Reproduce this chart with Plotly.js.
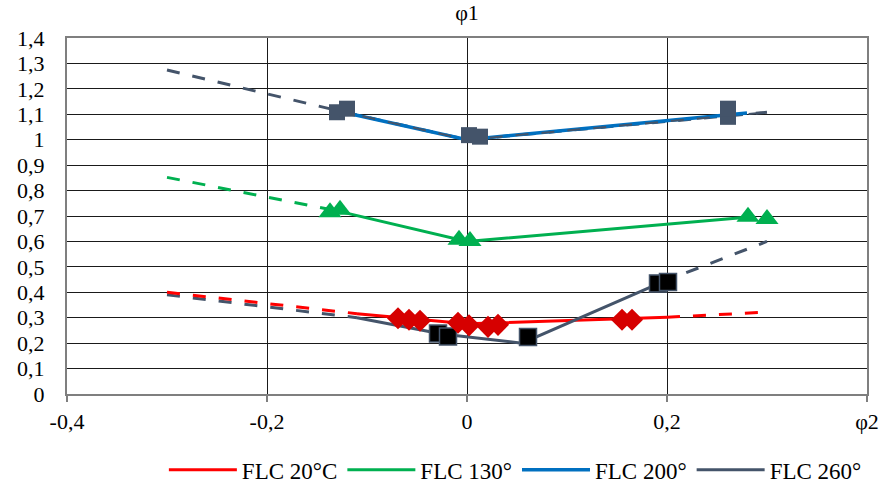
<!DOCTYPE html>
<html>
<head>
<meta charset="utf-8">
<script src="https://cdn.plot.ly/plotly-3.0.1.min.js"></script>
<style>html,body{margin:0;padding:0;background:#fff}#chart{width:884px;height:490px}</style>
</head>
<body>
<div id="chart"></div>
<script>
// ---- data ----
const seriesNames = ["FLC 20°C", "FLC 130°", "FLC 200°", "FLC 260°"];

// FLC 20°C
const flc20LineX = [-0.11, 0.0, 0.2];
const flc20LineY = [0.316, 0.276, 0.302];
const flc20DashLeftX = [-0.3, -0.11];
const flc20DashLeftY = [0.40, 0.316];
const flc20DashRightX = [0.2, 0.3];
const flc20DashRightY = [0.302, 0.322];
const flc20PtsX = [-0.069, -0.058, -0.047, -0.009, 0.002, 0.021, 0.031, 0.155, 0.165];
const flc20PtsY = [0.298, 0.292, 0.288, 0.28, 0.27, 0.264, 0.272, 0.292, 0.292];

// FLC 130°
const flc130LineX = [-0.13, 0.0, 0.28];
const flc130LineY = [0.72, 0.60, 0.695];
const flc130DashX = [-0.3, -0.13];
const flc130DashY = [0.852, 0.72];
const flc130PtsX = [-0.137, -0.127, -0.008, 0.003, 0.281, 0.3];
const flc130PtsY = [0.715, 0.725, 0.607, 0.602, 0.697, 0.688];

// FLC 200°
const flc200LineX = [-0.135, 0.0, 0.28];
const flc200LineY = [1.118, 1.0, 1.105];
const flc200PtsX = [-0.13, -0.12, 0.002, 0.013, 0.261, 0.261];
const flc200PtsY = [1.108, 1.122, 1.018, 1.012, 1.09, 1.122];

// FLC 260°
const flc260LineX = [-0.11, -0.025, 0.055, 0.195];
const flc260LineY = [0.30, 0.236, 0.20, 0.44];
const flc260DashLeftX = [-0.3, -0.11];
const flc260DashLeftY = [0.39, 0.30];
const flc260DashRightX = [0.195, 0.3];
const flc260DashRightY = [0.44, 0.60];
const flc260TopDashX = [-0.3, -0.13, 0.0, 0.3];
const flc260TopDashY = [1.274, 1.115, 1.0, 1.108];
const flc260PtsX = [-0.029, -0.019, 0.061, 0.191, 0.201];
const flc260PtsY = [0.238, 0.226, 0.224, 0.435, 0.44];

// axes ticks
const xTickVals = [-0.4, -0.2, 0, 0.2, 0.4];
const xTickText = ["-0,4", "-0,2", "0", "0,2", "φ2"];
const yTickVals = [0, 0.1, 0.2, 0.3, 0.4, 0.5, 0.6, 0.7, 0.8, 0.9, 1.0, 1.1, 1.2, 1.3, 1.4];
const yTickText = ["0", "0,1", "0,2", "0,3", "0,4", "0,5", "0,6", "0,7", "0,8", "0,9", "1", "1,1", "1,2", "1,3", "1,4"];

// ---- styles ----
const RED = "#FF0000", RED_M = "#D60000", GREEN = "#00B050", BLUE = "#0070C0", GRAY = "#44546A";
const DASH = "13px,13px";

function line(x, y, color, dash, name, legend, width) {
  return {x, y, type: "scatter", mode: "lines", name: name || "", showlegend: !!legend,
    line: {color, width: width || 3, dash: dash || "solid"}, hoverinfo: "skip"};
}
function pts(x, y, symbol, size, color, lc, lw) {
  return {x, y, type: "scatter", mode: "markers", showlegend: false, hoverinfo: "skip",
    marker: {symbol, size, color, line: {color: lc || color, width: lw || 0}}};
}

const traces = [
  // dashed extensions
  line(flc260TopDashX, flc260TopDashY, GRAY, DASH),
  line(flc130DashX, flc130DashY, GREEN, DASH),
  line(flc260DashLeftX, flc260DashLeftY, GRAY, DASH),
  line(flc260DashRightX, flc260DashRightY, GRAY, DASH),
  line(flc20DashLeftX, flc20DashLeftY, RED, DASH),
  line(flc20DashRightX, flc20DashRightY, RED, DASH),
  // solid series lines (legend)
  line(flc20LineX, flc20LineY, RED, "solid", seriesNames[0], true),
  line(flc130LineX, flc130LineY, GREEN, "solid", seriesNames[1], true),
  line(flc200LineX, flc200LineY, BLUE, "solid", seriesNames[2], true, 3.5),
  line(flc260LineX, flc260LineY, GRAY, "solid", seriesNames[3], true),
  // markers
  pts(flc130PtsX, flc130PtsY, "triangle-up", 20, GREEN),
  pts(flc260PtsX, flc260PtsY, "square", 17, "#000000", GRAY, 1.5),
  pts(flc20PtsX, flc20PtsY, "diamond", 17, RED_M),
];
// thin gray dash drawn over the blue line
traces.push(line(flc260TopDashX.slice(1), flc260TopDashY.slice(1), GRAY, DASH, "", false, 2));
traces.push(pts(flc200PtsX, flc200PtsY, "square", 16, GRAY));

const FONT = "Liberation Serif";
const FS = 22;
const layout = {
  width: 884, height: 490,
  margin: {l: 67, r: 17, t: 38, b: 96},
  paper_bgcolor: "#ffffff", plot_bgcolor: "#ffffff",
  font: {family: FONT, size: FS, color: "#000000"},
  title: {text: "φ1", x: 0.5, xref: "paper", xanchor: "center", y: 0.975, yanchor: "middle", font: {family: FONT, size: FS, color: "#000"}},
  xaxis: {
    range: [-0.4, 0.4], tickvals: xTickVals, ticktext: xTickText,
    showgrid: true, gridcolor: "#1a1a1a", gridwidth: 1,
    zeroline: false, showline: true, linecolor: "#7f7f7f", linewidth: 2, mirror: true,
    ticks: "outside", ticklen: 6, tickcolor: "#7f7f7f", tickwidth: 1.5, ticklabelstandoff: 1,
    tickfont: {family: FONT, size: FS, color: "#000"}, fixedrange: true, automargin: false
  },
  yaxis: {
    range: [0, 1.4], tickvals: yTickVals, ticktext: yTickText,
    showgrid: true, gridcolor: "#1a1a1a", gridwidth: 1,
    zeroline: false, showline: true, linecolor: "#7f7f7f", linewidth: 2, mirror: true,
    ticks: "", ticklabelstandoff: 16,
    tickfont: {family: FONT, size: FS, color: "#000"}, fixedrange: true, automargin: false
  },
  showlegend: true,
  legend: {orientation: "h", xref: "container", yref: "container", x: 0.583, xanchor: "center", y: 0.041, yanchor: "middle",
    font: {family: FONT, size: 23, color: "#000"}, bgcolor: "rgba(0,0,0,0)", itemwidth: 68,
    tracegroupgap: 0}
};

Plotly.newPlot("chart", traces, layout, {displayModeBar: false, staticPlot: true});
</script>
</body>
</html>
